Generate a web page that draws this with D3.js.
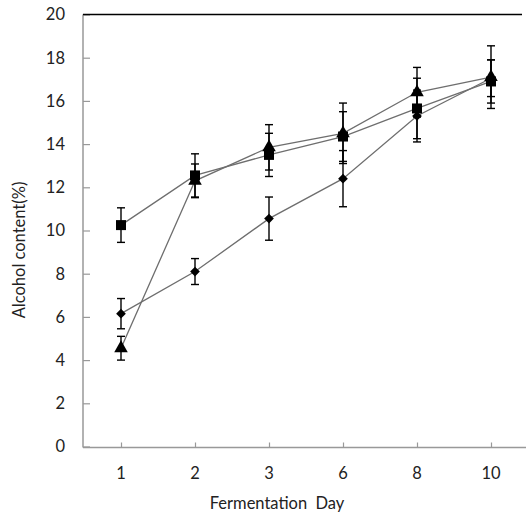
<!DOCTYPE html>
<html>
<head>
<meta charset="utf-8">
<script src="https://cdn.jsdelivr.net/npm/d3@7"></script>
<style>
  body { margin: 0; background: #fff; }
  svg text { font-family: Lato, "Open Sans", sans-serif; fill: #222; }
</style>
</head>
<body>
<svg id="chart" width="526" height="516"></svg>
<script>
// Alcohol content over fermentation days, three treatments with error bars.

const days = ['1', '2', '3', '6', '8', '10'];
const yTicks = [0, 2, 4, 6, 8, 10, 12, 14, 16, 18, 20];

const diamondValues = [6.15, 8.1, 10.55, 12.4, 15.3, 17.05];
const diamondErrors = [0.7, 0.6, 1.0, 1.3, 1.2, 0.85];
const squareValues = [10.25, 12.55, 13.5, 14.35, 15.65, 16.9];
const squareErrors = [0.8, 1.0, 1.0, 1.15, 1.4, 1.0];
const triangleValues = [4.55, 12.3, 13.85, 14.5, 16.4, 17.1];
const triangleErrors = [0.55, 0.78, 1.05, 1.4, 1.15, 1.45];

const series = [
  { shape: 'diamond', values: diamondValues, errors: diamondErrors },
  { shape: 'square', values: squareValues, errors: squareErrors },
  { shape: 'triangle', values: triangleValues, errors: triangleErrors }
];

const svg = d3.select('#chart');
const plotLeft = 83, plotTop = 14.5, plotBottom = 446.5, plotRight = 522;

const x = d3.scalePoint().domain(days).range([121, 491]);
const y = d3.scaleLinear().domain([0, 20]).range([plotBottom, plotTop]);

// Axes
const yAxis = svg.append('g')
  .attr('transform', `translate(${plotLeft},0)`)
  .call(d3.axisRight(y).tickValues(yTicks).tickSize(7).tickFormat(''));
yAxis.select('.domain').remove();
yAxis.selectAll('.tick line').attr('stroke', '#999').attr('stroke-width', 1.2);
svg.append('line')
  .attr('x1', plotLeft).attr('x2', plotLeft).attr('y1', plotTop).attr('y2', plotBottom + 1)
  .attr('stroke', '#999').attr('stroke-width', 1.5);

svg.selectAll('.ylab').data(yTicks).join('text')
  .attr('class', 'ylab')
  .attr('x', 65).attr('y', d => y(d))
  .attr('dy', '0.36em')
  .attr('text-anchor', 'end')
  .style('font-size', '16.5px')
  .text(d => d);

const xAxis = svg.append('g')
  .attr('transform', `translate(0,${plotBottom + 1})`)
  .call(d3.axisTop(x).tickSize(5).tickFormat(''));
xAxis.select('.domain').remove();
xAxis.selectAll('.tick line').attr('stroke', '#999').attr('stroke-width', 1.2);
svg.append('line')
  .attr('x1', plotLeft).attr('x2', 526).attr('y1', plotBottom + 1).attr('y2', plotBottom + 1)
  .attr('stroke', '#999').attr('stroke-width', 1.5);

svg.selectAll('.xlab').data(days).join('text')
  .attr('class', 'xlab')
  .attr('x', d => x(d)).attr('y', 473)
  .attr('dy', '0.36em')
  .attr('text-anchor', 'middle')
  .style('font-size', '16.5px')
  .text(d => d);

// top border line
svg.append('line')
  .attr('x1', plotLeft).attr('x2', plotRight).attr('y1', plotTop).attr('y2', plotTop)
  .attr('stroke', '#000').attr('stroke-width', 1.5);

// Titles
svg.append('text')
  .attr('x', 277).attr('y', 503)
  .attr('dy', '0.36em')
  .attr('text-anchor', 'middle')
  .style('font-size', '16.5px')
  .style('word-spacing', '4px')
  .text('Fermentation Day');

svg.append('text')
  .attr('transform', 'translate(19,250) rotate(-90)')
  .attr('dy', '0.36em')
  .attr('text-anchor', 'middle')
  .style('font-size', '16.5px')
  .text('Alcohol content(%)');

// Lines
const line = d3.line().x((d, i) => x(days[i])).y(d => y(d));
series.forEach(s => {
  svg.append('path')
    .attr('d', line(s.values))
    .attr('fill', 'none')
    .attr('stroke', '#6e6e6e')
    .attr('stroke-width', 1.3);
});

// Error bars
series.forEach(s => {
  const g = svg.append('g').attr('stroke', '#000').attr('stroke-width', 1.4);
  s.values.forEach((v, i) => {
    const cx = x(days[i]);
    const hi = y(v + s.errors[i]), lo = y(v - s.errors[i]);
    g.append('line').attr('x1', cx).attr('x2', cx).attr('y1', hi).attr('y2', lo);
    g.append('line').attr('x1', cx - 4).attr('x2', cx + 4).attr('y1', hi).attr('y2', hi);
    g.append('line').attr('x1', cx - 4).attr('x2', cx + 4).attr('y1', lo).attr('y2', lo);
  });
});

// Markers
const shapes = {
  diamond: d3.symbol(d3.symbolDiamond2, 60),
  square: d3.symbol(d3.symbolSquare, 100),
  triangle: d3.symbol(d3.symbolTriangle, 80)
};
series.forEach(s => {
  svg.selectAll(null).data(s.values).join('path')
    .attr('d', shapes[s.shape]())
    .attr('transform', (d, i) => `translate(${x(days[i])},${y(d)})`)
    .attr('fill', '#000');
});
</script>
</body>
</html>
